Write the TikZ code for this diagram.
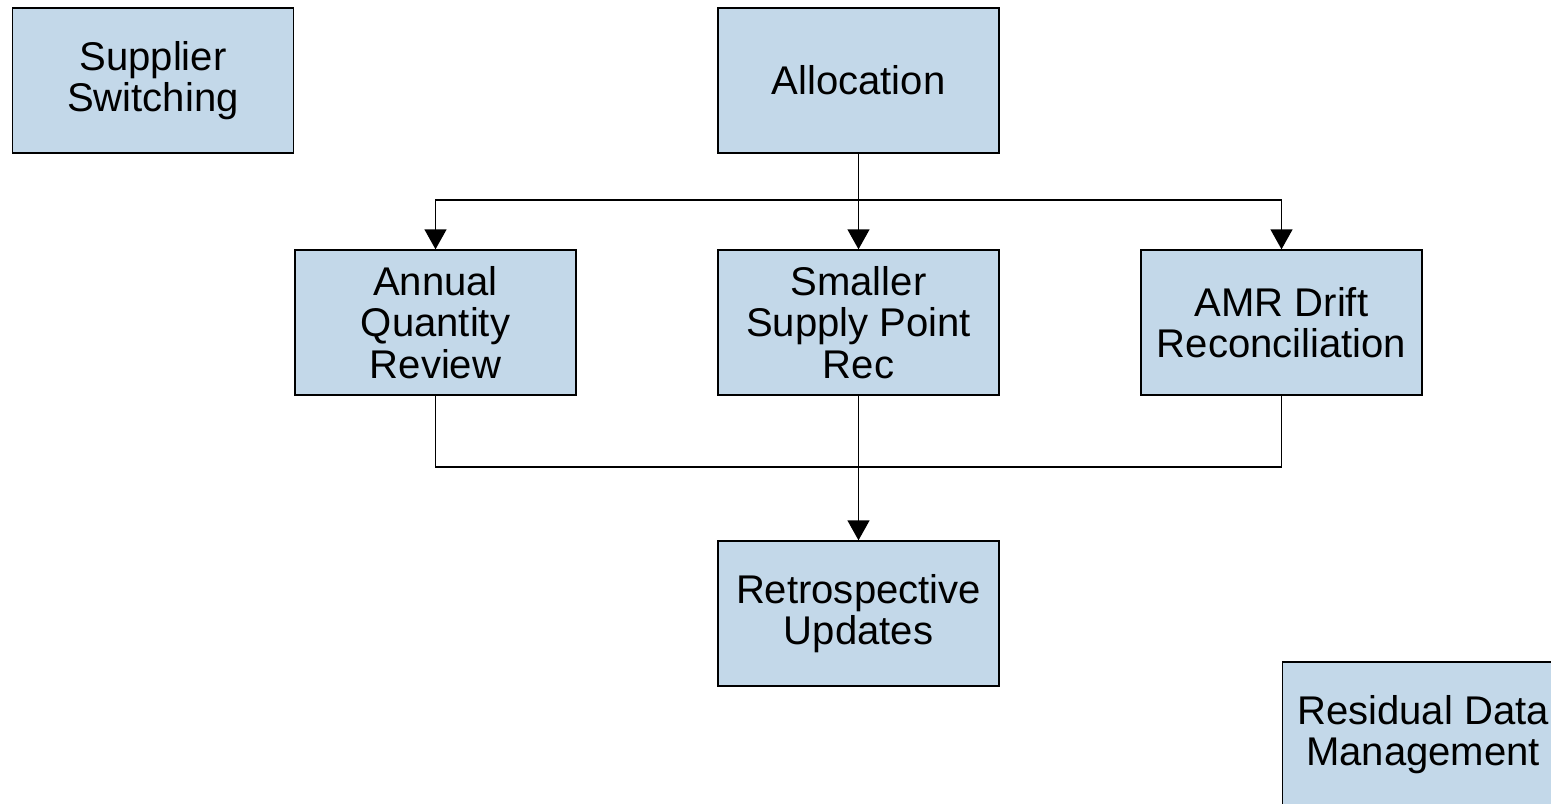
\documentclass[tikz,border=0pt]{standalone}
\usepackage{fontspec}
\setmainfont{Liberation Sans}
\usetikzlibrary{arrows.meta}
\definecolor{boxblue}{RGB}{195,216,233}

\begin{document}
\begin{tikzpicture}[x=0.02cm, y=-0.02cm,
        proc/.style={draw=black, line width=0.8pt, fill=boxblue,
            minimum width=5.62cm, minimum height=2.9cm, inner sep=0pt,
            align=center, font=\fontsize{22.8}{23.6}\selectfont},
        link/.style={draw=black, line width=0.8pt},
        linkarrow/.style={link, -{Triangle[width=0.44cm, length=0.4cm]}}]
        \clip (0,0) rectangle (1551,804);
        \useasboundingbox (0,0) rectangle (1551,804);
        \node [proc] (switch) at (153,80.5) {Supplier\\Switching};
        \node [proc] (alloc) at (858.5,80.5) {Allocation};
        \node [proc] (aqr) at (435.5,322.5) {Annual\\Quantity\\Review};
        \node [proc] (sspr) at (858.5,322.5) {Smaller\\Supply Point\\Rec};
        \node [proc] (amr) at (1281.5,322.5) {AMR Drift\\Reconciliation};
        \node [proc] (retro) at (858.5,613.5) {Retrospective\\Updates};
        \node [proc] (resid) at (1423,734.5) {Residual Data\\Management};

        % from allocation to the three checks
        \coordinate (split) at (858.5,200);
        \draw [link] (alloc.south) -- (split);
        \draw [linkarrow] (split) -| (aqr.north);
        \draw [linkarrow] (split) -- (sspr.north);
        \draw [linkarrow] (split) -| (amr.north);

        % back together into retrospective updates
        \coordinate (join) at (858.5,467);
        \draw [link] (aqr.south) |- (join) -| (amr.south);
        \draw [linkarrow] (sspr.south) -- (retro.north);
    \end{tikzpicture}
\end{document}
